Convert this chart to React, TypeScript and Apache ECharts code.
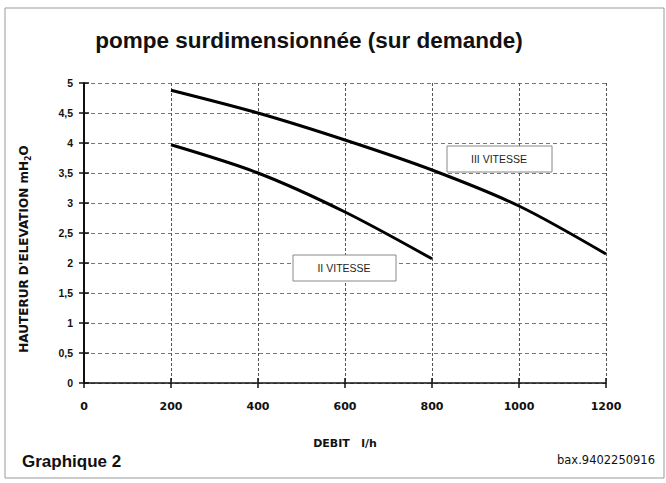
import React, { useEffect, useRef } from "react";
import * as echarts from "echarts";

const debit = [0, 200, 400, 600, 800, 1000, 1200];
const flowIII = [200, 400, 600, 800, 1000, 1200];
const headIII = [4.88, 4.5, 4.05, 3.55, 2.95, 2.15];
const flowII = [200, 400, 600, 800];
const headII = [3.97, 3.5, 2.85, 2.07];
const seriesNames = ["III VITESSE", "II VITESSE"];

const FONT = "'Liberation Sans', Arial, sans-serif";
const WIDE = "'DejaVu Sans', sans-serif";

export default function App() {
  const ref = useRef<HTMLDivElement>(null);
  useEffect(() => {
    document.body.style.margin = "0";
    const chart = echarts.init(ref.current!, null, { renderer: "svg" });
    const fmt = (v: number) => String(v).replace(".", ",");
    const baseX = {
      type: "value" as const,
      min: 0,
      max: 1200,
      interval: 200,
    };
    const baseY = {
      type: "value" as const,
      min: 0,
      max: 5,
      interval: 0.5,
    };
    chart.setOption({
      animation: false,
      backgroundColor: "#fff",
      textStyle: { fontFamily: FONT },
      title: {
        text: "pompe surdimensionnée (sur demande)",
        left: 304,
        textAlign: "center",
        top: 24,
        textStyle: { fontFamily: FONT, fontSize: 22.5, fontWeight: "bold", color: "#111" },
      },
      grid: { left: 84, top: 83, right: 60, bottom: 100, containLabel: false },
      xAxis: [
        {
          ...baseX,
          axisLine: { show: true, lineStyle: { color: "#111", width: 1.5 } },
          axisTick: { show: true, length: 5, lineStyle: { color: "#111", width: 1.5 } },
          axisLabel: {
            show: true,
            margin: 18,
            fontFamily: WIDE,
            fontSize: 11,
            fontWeight: "bold",
            color: "#111",
            formatter: (v: number) => (debit.includes(v) ? String(v) : ""),
          },
          splitLine: { show: true, lineStyle: { color: "#555", type: [3, 2], width: 1 } },
          name: "DEBIT   l/h",
          nameLocation: "middle",
          nameGap: 55,
          nameTextStyle: { fontFamily: WIDE, fontSize: 11, fontWeight: "bold", color: "#111" },
        },
        {
          ...baseX,
          position: "bottom",
          axisLine: { show: false },
          axisTick: { show: true, inside: true, length: 5, lineStyle: { color: "#111", width: 1.5 } },
          axisLabel: { show: false },
          splitLine: { show: false },
        },
      ],
      yAxis: [
        {
          ...baseY,
          axisLine: { show: true, lineStyle: { color: "#111", width: 2 } },
          axisTick: { show: true, length: 5, lineStyle: { color: "#111", width: 1.5 } },
          axisLabel: {
            margin: 11,
            fontFamily: FONT,
            fontSize: 10.5,
            fontWeight: "bold",
            color: "#111",
            formatter: fmt,
          },
          splitLine: { show: true, lineStyle: { color: "#777", type: [4, 3], width: 1 } },
        },
        {
          ...baseY,
          position: "left",
          axisLine: { show: false },
          axisTick: { show: true, inside: true, length: 5, lineStyle: { color: "#111", width: 1.5 } },
          axisLabel: { show: false },
          splitLine: { show: false },
        },
      ],
      series: [
        {
          name: seriesNames[0],
          type: "line",
          smooth: 0.3,
          symbol: "none",
          z: 3,
          lineStyle: { color: "#000", width: 3 },
          data: flowIII.map((x, i) => [x, headIII[i]]),
        },
        {
          name: seriesNames[1],
          type: "line",
          smooth: 0.3,
          symbol: "none",
          z: 3,
          lineStyle: { color: "#000", width: 3 },
          data: flowII.map((x, i) => [x, headII[i]]),
        },
      ],
      graphic: [
        {
          type: "rect",
          z: 0,
          shape: { x: 5, y: 8, width: 659, height: 470 },
          style: { fill: "none", stroke: "#999", lineWidth: 1 },
          silent: true,
        },
        {
          type: "group",
          x: 447,
          y: 146,
          z: 20,
          children: [
            { type: "rect", z: 20, shape: { x: 0, y: 0, width: 105, height: 26 }, style: { fill: "#fff", stroke: "#888", lineWidth: 1 } },
            {
              type: "text",
              z: 21,
              x: 52,
              y: 13,
              style: { text: seriesNames[0], fontFamily: FONT, fontSize: 10.5, fill: "#222", align: "center", verticalAlign: "middle" },
            },
          ],
        },
        {
          type: "group",
          x: 293,
          y: 255,
          z: 20,
          children: [
            { type: "rect", z: 20, shape: { x: 0, y: 0, width: 103, height: 26 }, style: { fill: "#fff", stroke: "#888", lineWidth: 1 } },
            {
              type: "text",
              z: 21,
              x: 51,
              y: 13,
              style: { text: seriesNames[1], fontFamily: FONT, fontSize: 10.5, fill: "#222", align: "center", verticalAlign: "middle" },
            },
          ],
        },
        {
          type: "text",
          x: 24,
          y: 249,
          rotation: Math.PI / 2,
          style: {
            text: "{a|HAUTERUR D'ELEVATION mH}{s|2}{a|O}",
            align: "center",
            verticalAlign: "middle",
            rich: {
              a: { fontFamily: WIDE, fontSize: 12, fontWeight: "bold", fill: "#111" },
              s: { fontFamily: WIDE, fontSize: 8, fontWeight: "bold", fill: "#111", padding: [9, 0, 0, 0] },
            },
          },
        },
        {
          type: "text",
          x: 22,
          y: 461,
          style: { text: "Graphique 2", fontFamily: FONT, fontSize: 17, fontWeight: "bold", fill: "#111", verticalAlign: "middle" },
        },
        {
          type: "text",
          x: 655,
          y: 460,
          style: { text: "bax.9402250916", fontFamily: WIDE, fontSize: 11.5, fill: "#111", align: "right", verticalAlign: "middle" },
        },
      ],
    });
    return () => chart.dispose();
  }, []);
  return <div ref={ref} style={{ position: "absolute", left: 0, top: 0, width: 666, height: 483 }} />;
}
